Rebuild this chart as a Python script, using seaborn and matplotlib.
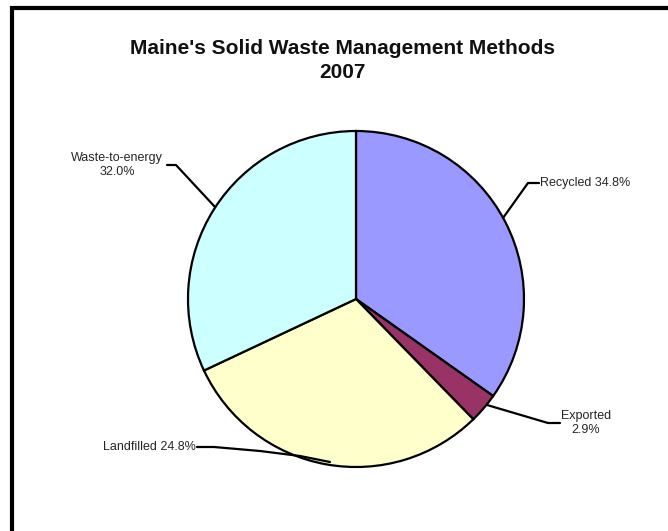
import matplotlib
matplotlib.use("Agg")
import matplotlib.pyplot as plt
import seaborn as sns
from matplotlib.patches import Rectangle

sns.set_theme(style="white")
plt.rcParams['font.family'] = ['Liberation Sans', 'DejaVu Sans']

# Data
categories = ["Recycled", "Exported", "Landfilled", "Waste-to-energy"]
values = [34.8, 2.9, 30.3, 32.0]          # slice sizes as drawn
label_texts = ["Recycled 34.8%", "Exported\n2.9%", "Landfilled 24.8%", "Waste-to-energy\n32.0%"]
colors = ["#9999FF", "#993366", "#FFFFCC", "#CCFFFF"]

W, H = 668, 531
fig = plt.figure(figsize=(W / 100, H / 100), dpi=100)
ax = fig.add_axes([0, 0, 1, 1])

def Y(py):
    return H - py

ax.pie(values, colors=colors, startangle=90, counterclock=False,
       center=(356, Y(299)), radius=168,
       wedgeprops=dict(edgecolor="black", linewidth=1.6))
ax.set_xlim(0, W)
ax.set_ylim(0, H)
ax.set_aspect("equal")
ax.axis("off")

# frame
ax.add_patch(Rectangle((12, Y(8) - 600), 700, 600, fill=False,
                       edgecolor="black", linewidth=3, clip_on=False))

# title
ax.text(342, Y(49), "Maine's Solid Waste Management Methods", ha="center", va="center",
        fontsize=15, fontweight="bold", color="#111111")
ax.text(342, Y(72), "2007", ha="center", va="center",
        fontsize=15, fontweight="bold", color="#111111")

lw = 1.6
fs = 9
# Recycled
ax.plot([503, 528, 539], [Y(218), Y(183), Y(183)], color="black", lw=lw)
ax.text(540, Y(183), label_texts[0], ha="left", va="center", fontsize=fs)
# Exported
ax.plot([487, 548, 560], [Y(405), Y(423), Y(423)], color="black", lw=lw)
ax.text(586, Y(423), label_texts[1], ha="center", va="center", fontsize=fs, linespacing=1.25)
# Landfilled
ax.plot([197, 214, 260, 300, 330], [Y(447), Y(447), Y(451), Y(456), Y(462)], color="black", lw=lw)
ax.text(196, Y(447), label_texts[2], ha="right", va="center", fontsize=fs)
# Waste-to-energy
ax.plot([167, 176, 215], [Y(165), Y(165), Y(207)], color="black", lw=lw)
ax.text(117, Y(165), label_texts[3], ha="center", va="center", fontsize=fs, linespacing=1.25)

fig.savefig("out.png", dpi=100, facecolor="white")
